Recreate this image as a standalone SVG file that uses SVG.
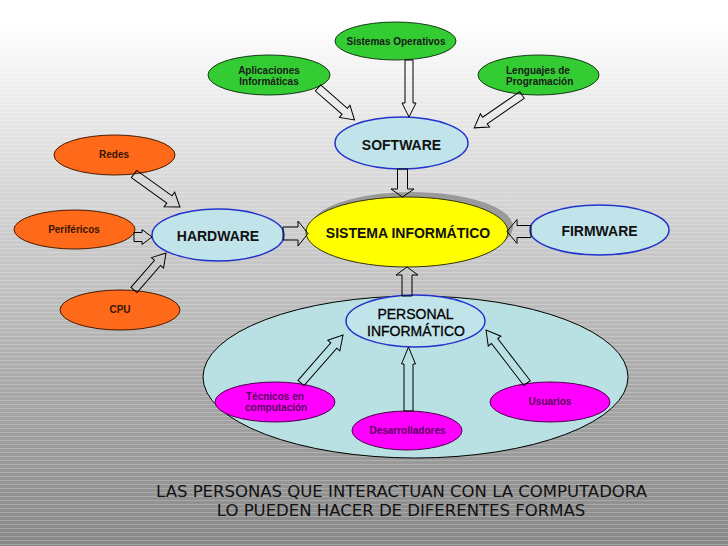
<svg xmlns="http://www.w3.org/2000/svg" width="728" height="546" viewBox="0 0 728 546">
<defs>
<linearGradient id="bg" x1="0" y1="0" x2="0" y2="1">
<stop offset="0" stop-color="#ffffff"/>
<stop offset="0.04" stop-color="#ffffff"/>
<stop offset="0.25" stop-color="#e2e2e2"/>
<stop offset="0.5" stop-color="#c4c4c4"/>
<stop offset="0.75" stop-color="#a4a4a4"/>
<stop offset="1" stop-color="#888888"/>
</linearGradient>
<pattern id="stripes" x="0" y="0" width="8" height="4" patternUnits="userSpaceOnUse">
<rect x="0" y="0" width="8" height="1" fill="#ffffff" fill-opacity="0.22"/>
</pattern>
<style>
.t{font-family:"Liberation Sans",Arial,sans-serif;text-anchor:middle}
.b{font-weight:bold}
.green{fill:#33cc33;stroke:#143a14;stroke-width:1}
.orange{fill:#ff6a1a;stroke:#4a1a00;stroke-width:1}
.mag{fill:#ff00ff;stroke:#4a004a;stroke-width:1}
.blue{fill:#c0e4ea;stroke:#2233cc;stroke-width:1.5}
.gt{font-size:10px;fill:#1a1a1a}
.ot{font-size:10px;fill:#3a1400}
.mt{font-size:10px;fill:#5a0060}
.big{font-size:14px;fill:#111}
.arr{fill:none;stroke:#000;stroke-width:1;stroke-linejoin:miter}
.cap{font-family:"DejaVu Sans",Verdana,sans-serif;font-size:16.5px;text-anchor:middle;fill:#111}
</style>
</defs>
<rect width="728" height="546" fill="url(#bg)"/>
<rect y="60" width="728" height="486" fill="url(#stripes)"/>

<g id="personal-area">
<ellipse cx="415.5" cy="377" rx="212.5" ry="81" fill="#b9e0e2" stroke="#000" stroke-width="1"/>
</g>

<g id="sistemas-operativos">
<ellipse class="green" cx="395.5" cy="41" rx="60.5" ry="19"/>
<text class="t b gt" x="396" y="45">Sistemas Operativos</text>
</g>
<g id="aplicaciones">
<ellipse class="green" cx="269" cy="75" rx="61" ry="20"/>
<text class="t b gt" x="269" y="74">Aplicaciones</text>
<text class="t b gt" x="269" y="85">Informáticas</text>
</g>
<g id="lenguajes">
<ellipse class="green" cx="538.5" cy="75" rx="60.5" ry="20"/>
<text class="t b gt" x="506" y="74" style="text-anchor:start">Lenguajes de</text>
<text class="t b gt" x="506" y="85" style="text-anchor:start">Programación</text>
</g>
<g id="software">
<ellipse class="blue" cx="401.5" cy="143" rx="66.5" ry="26"/>
<text class="t b big" x="401.5" y="150">SOFTWARE</text>
</g>
<g id="redes">
<ellipse class="orange" cx="114.5" cy="155" rx="60.5" ry="20"/>
<text class="t b ot" x="114" y="158">Redes</text>
</g>
<g id="perifericos">
<ellipse class="orange" cx="74.5" cy="229.5" rx="60.5" ry="19.5"/>
<text class="t b ot" x="74" y="233">Periféricos</text>
</g>
<g id="cpu">
<ellipse class="orange" cx="120" cy="310" rx="60" ry="20"/>
<text class="t b ot" x="120" y="313">CPU</text>
</g>
<g id="hardware">
<ellipse class="blue" cx="218" cy="235" rx="66" ry="26"/>
<text class="t b big" x="218" y="241">HARDWARE</text>
</g>
<g id="sistema-informatico">
<ellipse cx="412" cy="227" rx="101" ry="35" fill="#9a9a9a"/>
<ellipse cx="407" cy="232" rx="101" ry="35" fill="#ffff00" stroke="#333300" stroke-width="1"/>
<text class="t b big" x="408" y="238">SISTEMA INFORMÁTICO</text>
</g>
<g id="firmware">
<ellipse class="blue" cx="599.5" cy="230" rx="69.5" ry="25"/>
<text class="t b big" x="599.5" y="236">FIRMWARE</text>
</g>
<g id="personal-informatico">
<ellipse class="blue" cx="415.5" cy="321" rx="69.5" ry="26"/>
<text class="t big" x="415.5" y="319" style="fill:#000;stroke:#000;stroke-width:0.3">PERSONAL</text>
<text class="t big" x="416" y="336" style="fill:#000;stroke:#000;stroke-width:0.3">INFORMÁTICO</text>
</g>
<g id="tecnicos">
<ellipse class="mag" cx="275" cy="402" rx="60" ry="20"/>
<text class="t b mt" x="246" y="400" style="text-anchor:start">Técnicos en</text>
<text class="t b mt" x="245" y="411" style="text-anchor:start">computación</text>
</g>
<g id="desarrolladores">
<ellipse class="mag" cx="407" cy="430.5" rx="55" ry="19.5"/>
<text class="t b mt" x="407.5" y="434">Desarrolladores</text>
</g>
<g id="usuarios">
<ellipse class="mag" cx="550" cy="402" rx="60" ry="20"/>
<text class="t b mt" x="550" y="405">Usuarios</text>
</g>

<g id="connectors">
<path class="arr" transform="translate(409,60) rotate(90)" d="M0,-4 L43,-4 L43,-7 L57,0 L43,7 L43,4 L0,4 Z"/>
<path class="arr" transform="translate(318,88) rotate(41.2)" d="M0,-4 L35.5,-4 L35.5,-8 L48.5,0 L35.5,8 L35.5,4 L0,4 Z"/>
<path class="arr" transform="translate(522,95) rotate(145.5)" d="M0,-4 L45,-4 L45,-8 L58,0 L45,8 L45,4 L0,4 Z"/>
<path class="arr" transform="translate(402.5,169) rotate(90)" d="M0,-5 L20,-5 L20,-11.5 L28,0 L20,11.5 L20,5 L0,5 Z"/>
<path class="arr" transform="translate(283,233.5)" d="M0,-6.5 L15,-6.5 L15,-12.5 L25,0 L15,12.5 L15,6.5 L0,6.5 Z"/>
<path class="arr" transform="translate(531,231.5) rotate(180)" d="M0,-6 L14,-6 L14,-12 L24,0 L14,12 L14,6 L0,6 Z"/>
<path class="arr" transform="translate(407,296) rotate(-90)" d="M0,-5 L21,-5 L21,-11 L29,0 L21,11 L21,5 L0,5 Z"/>
<path class="arr" transform="translate(134,174) rotate(35.7)" d="M0,-4.5 L43.6,-4.5 L43.6,-9 L56.6,0 L43.6,9 L43.6,4.5 L0,4.5 Z"/>
<path class="arr" transform="translate(134,237)" d="M0,-4.5 L8,-4.5 L8,-7.5 L18,0 L8,7.5 L8,4.5 L0,4.5 Z"/>
<path class="arr" transform="translate(134,290) rotate(-49.1)" d="M0,-4 L35.9,-4 L35.9,-8 L48.9,0 L35.9,8 L35.9,4 L0,4 Z"/>
<path class="arr" transform="translate(301,383) rotate(-48.8)" d="M0,-4 L49.8,-4 L49.8,-8 L63.8,0 L49.8,8 L49.8,4 L0,4 Z"/>
<path class="arr" transform="translate(408.5,411) rotate(-90)" d="M0,-4.5 L47,-4.5 L47,-7 L64,0 L47,7 L47,4.5 L0,4.5 Z"/>
<path class="arr" transform="translate(527,383) rotate(-127.7)" d="M0,-4 L53,-4 L53,-8 L67,0 L53,8 L53,4 L0,4 Z"/>
</g>

<g id="caption">
<text class="cap" x="401.5" y="497">LAS PERSONAS QUE INTERACTUAN CON LA COMPUTADORA</text>
<text class="cap" x="401" y="516">LO PUEDEN HACER DE DIFERENTES FORMAS</text>
</g>
</svg>
